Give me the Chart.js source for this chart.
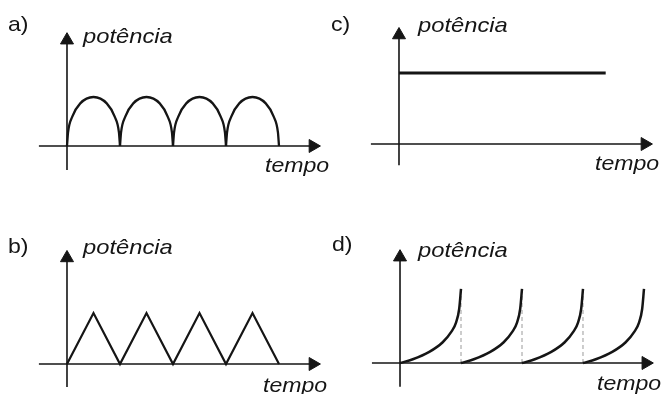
<!DOCTYPE html>
<html>
<head>
<meta charset="utf-8">
<script src="https://cdn.jsdelivr.net/npm/chart.js@4.4.1/dist/chart.umd.min.js"></script>
<style>
  body { margin: 0; background: #fff; }
  #wrap { position: relative; width: 664px; height: 394px; overflow: hidden; background: #fff; }
  canvas { position: absolute; }
  .lbl {
    position: absolute;
    font-family: "Liberation Sans", Arial, sans-serif;
    font-size: 21px;
    line-height: 21px;
    color: #151515;
    white-space: nowrap;
    transform-origin: 0 0;
    transform: scaleX(1.1);
  }
  .it { font-style: italic; }
  .wide { transform: scaleX(1.13); }
</style>
</head>
<body>
<div id="wrap">
  <canvas id="chartA" width="332" height="197" style="left:0;top:0"></canvas>
  <canvas id="chartC" width="332" height="197" style="left:332px;top:0"></canvas>
  <canvas id="chartB" width="332" height="197" style="left:0;top:197px"></canvas>
  <canvas id="chartD" width="332" height="197" style="left:332px;top:197px"></canvas>

  <div class="lbl" style="left:8px;top:13px">a)</div>
  <div class="lbl it wide" style="left:83px;top:25px">potência</div>
  <div class="lbl it" style="left:265px;top:154px">tempo</div>

  <div class="lbl" style="left:331px;top:13px">c)</div>
  <div class="lbl it wide" style="left:418px;top:14px">potência</div>
  <div class="lbl it" style="left:595px;top:152px">tempo</div>

  <div class="lbl" style="left:8px;top:235px">b)</div>
  <div class="lbl it wide" style="left:83px;top:236px">potência</div>
  <div class="lbl it" style="left:263px;top:374px">tempo</div>

  <div class="lbl" style="left:332px;top:233px">d)</div>
  <div class="lbl it wide" style="left:418px;top:239px">potência</div>
  <div class="lbl it" style="left:597px;top:372px">tempo</div>
</div>

<script>
// a) arcos (potência retificada) - forma de um arco e inícios
const archShapeT = [0, 0.02, 0.1, 0.25, 0.5, 0.75, 0.9, 0.98, 1];
const archShapeP = [0, 0.28, 0.6, 0.87, 1, 0.87, 0.6, 0.28, 0];
const archStarts = [0, 1, 2, 3];

// b) triangular
const triT = [0, 0.5, 1, 1.5, 2, 2.5, 3, 3.5, 4];
const triP = [0, 1, 0, 1, 0, 1, 0, 1, 0];

// c) potência constante
const constT = [0, 3.9];
const constP = [1, 1];

// d) rampas que sobem até quase vertical
const rampShapeT = [0, 0.21, 0.48, 0.70, 0.84, 0.92, 0.97, 1];
const rampShapeP = [0, 0.05, 0.15, 0.28, 0.42, 0.55, 0.73, 1];
const rampStarts = [0, 1, 2, 3];
const resetT = [1, 2, 3]; // linhas tracejadas

// janelas das escalas e extensão dos eixos (unidades dos dados)
const viewA = { xMin: -1.264, xMax: 5.0, yMin: -1.041, yMax: 2.98 };
const viewB = { xMin: -1.264, xMax: 5.0, yMin: -0.588, yMax: 3.275 };
const viewC = { xMin: -1.264, xMax: 5.0, yMin: -0.746, yMax: 2.028 };
const viewD = { xMin: -1.115, xMax: 4.328, yMin: -0.419, yMax: 2.243 };

const axisA = { xFrom: -0.53, xTo: 4.64, yFrom: -0.49, yTo: 2.16 };
const axisB = { xFrom: -0.53, xTo: 4.64, yFrom: -0.45, yTo: 2.08 };
const axisC = { xFrom: -0.53, xTo: 4.64, yFrom: -0.30, yTo: 1.535 };
const axisD = { xFrom: -0.46, xTo: 4.03, yFrom: -0.32, yTo: 1.43 };

const ink = '#151515';

function toPoints(ts, ps, offset) {
  return ts.map((t, i) => ({ x: t + (offset || 0), y: ps[i] }));
}

function axisSets(ax) {
  const base = {
    borderColor: ink,
    borderWidth: 1.6,
    pointStyle: 'triangle',
    pointRadius: [0, 7.5],
    pointBackgroundColor: ink,
    pointBorderColor: ink,
    pointBorderWidth: 1,
    tension: 0
  };
  return [
    Object.assign({}, base, { data: [{ x: ax.xFrom, y: 0 }, { x: ax.xTo, y: 0 }], pointRotation: 90 }),
    Object.assign({}, base, { data: [{ x: 0, y: ax.yFrom }, { x: 0, y: ax.yTo }], pointRotation: 0 })
  ];
}

function curve(data, width, smooth) {
  return {
    data: data,
    borderColor: ink,
    borderWidth: width,
    pointRadius: 0,
    tension: 0,
    cubicInterpolationMode: smooth ? 'monotone' : 'default',
    borderCapStyle: 'butt',
    borderJoinStyle: 'miter'
  };
}

function makePanel(id, view, datasets) {
  return new Chart(document.getElementById(id), {
    type: 'line',
    data: { datasets: datasets },
    options: {
      responsive: false,
      animation: false,
      events: [],
      layout: { padding: 0, autoPadding: false },
      plugins: { legend: { display: false }, tooltip: { enabled: false } },
      scales: {
        x: { type: 'linear', display: false, min: view.xMin, max: view.xMax },
        y: { type: 'linear', display: false, min: view.yMin, max: view.yMax }
      }
    }
  });
}

// a)
makePanel('chartA', viewA,
  archStarts.map(s => curve(toPoints(archShapeT, archShapeP, s), 2.3, true))
    .concat(axisSets(axisA)));

// b)
makePanel('chartB', viewB,
  [curve(toPoints(triT, triP), 2.2, false)].concat(axisSets(axisB)));

// c)
makePanel('chartC', viewC,
  [curve(toPoints(constT, constP), 2.8, false)].concat(axisSets(axisC)));

// d)
const dashed = resetT.map(t => ({
  data: [{ x: t, y: 0 }, { x: t, y: 1 }],
  borderColor: '#9a9a9a',
  borderWidth: 1,
  borderDash: [4, 3],
  pointRadius: 0
}));
makePanel('chartD', viewD,
  rampStarts.map(s => curve(toPoints(rampShapeT, rampShapeP, s), 2.5, true))
    .concat(axisSets(axisD))
    .concat(dashed));
</script>
</body>
</html>
